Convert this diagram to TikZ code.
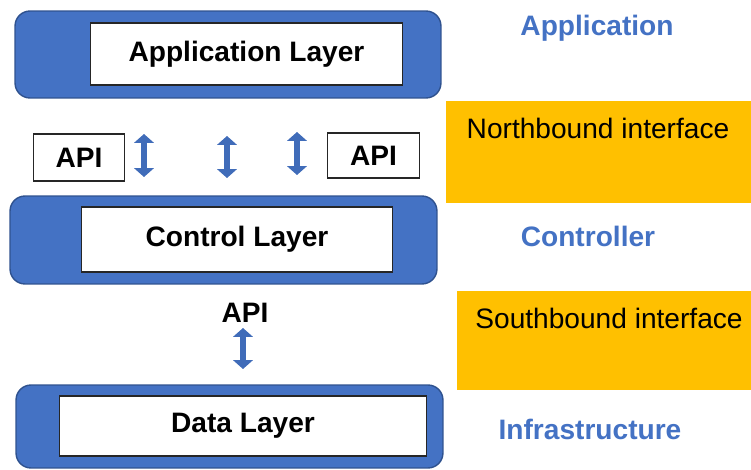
\documentclass[tikz,border=0pt]{standalone}
\usepackage{fontspec}
\setmainfont{Liberation Sans}
\usetikzlibrary{positioning}
\usetikzlibrary{arrows.meta}
\definecolor{layerblue}{RGB}{68,114,196}
\definecolor{layeredge}{RGB}{47,82,143}
\definecolor{ifaceorange}{RGB}{255,192,0}
\tikzset {
  big text/.style = {
    font = \fontsize{16}{19}\selectfont
  },
  % blue rounded band of a layer
  layer/.style = {
    rectangle,
    draw = layeredge,
    fill = layerblue,
    line width = 0.8pt,
    rounded corners = 3mm
  },
  % white box with the layer name
  layer name/.style = {
    rectangle,
    draw = black!85,
    fill = white,
    line width = 0.6pt,
    font = \bfseries\fontsize{16}{19}\selectfont
  },
  api/.style = {
    layer name,
    minimum width = 1.83cm
  },
  % orange interface box
  iface/.style = {
    rectangle,
    fill = ifaceorange,
    inner sep = 0
  },
  iface text/.style = {
    big text,
    inner sep = 0
  },
  % blue labels on the right
  role/.style = {
    text = layerblue,
    font = \bfseries\fontsize{16}{19}\selectfont,
    inner sep = 0
  },
  both ways/.style = {
    draw = layerblue!80!layeredge,
    line width = 3.4pt,
    {Triangle[width=11pt,length=5pt]}-{Triangle[width=11pt,length=5pt]}
  }
}

\begin{document}
\begin{tikzpicture}[x=0.02cm, y=-0.02cm]
    \useasboundingbox (0,0) rectangle (751,470);

    % layers
    \node[layer, minimum width=8.52cm, minimum height=1.74cm] (app) at (228,54.5) {};
    \node[layer name, minimum width=6.26cm, minimum height=1.24cm] (app name) at (246.5,54) {Application Layer};

    \node[layer, minimum width=8.54cm, minimum height=1.76cm] (ctrl) at (223.5,240) {};
    \node[layer name, minimum width=6.24cm, minimum height=1.30cm] (ctrl name) at (237,239.5) {Control Layer};

    \node[layer, minimum width=8.54cm, minimum height=1.66cm] (data) at (229.5,426.5) {};
    \node[layer name, minimum width=7.36cm, minimum height=1.20cm] (data name) at (243,426) {Data Layer};

    % northbound APIs
    \node[api, minimum height=0.94cm] (api left) at (79,157.5) {API};
    \node[api, minimum height=0.90cm] (api right) at (373.5,155.5) {API};
    \coordinate (nb1 top) at (144,134);
    \coordinate (nb1 bot) at (144,177);
    \coordinate (nb2 top) at (227,136);
    \coordinate (nb2 bot) at (227,178);
    \coordinate (nb3 top) at (297,132);
    \coordinate (nb3 bot) at (297,175);
    \draw[both ways] (nb1 top) -- (nb1 bot);
    \draw[both ways] (nb2 top) -- (nb2 bot);
    \draw[both ways] (nb3 top) -- (nb3 bot);

    % southbound API
    \node[iface text, font=\bfseries\fontsize{16}{19}\selectfont] (api south) at (245,313) {API};
    \coordinate (sb top) at (243,328);
    \coordinate (sb bot) at (243,369);
    \draw[both ways] (sb top) -- (sb bot);

    % interfaces
    \node[iface, minimum width=6.10cm, minimum height=2.04cm] (north) at (598.5,152) {};
    \node[iface text] (north text) at (598,128) {Northbound interface};
    \node[iface, minimum width=5.88cm, minimum height=1.98cm] (south) at (604,340.5) {};
    \node[iface text] (south text) at (609,318) {Southbound interface};

    % roles
    \node[role] (role app) at (597,28) {Application};
    \node[role] (role ctrl) at (588,236) {Controller};
    \node[role] (role infra) at (590,429) {Infrastructure};
\end{tikzpicture}
\end{document}
